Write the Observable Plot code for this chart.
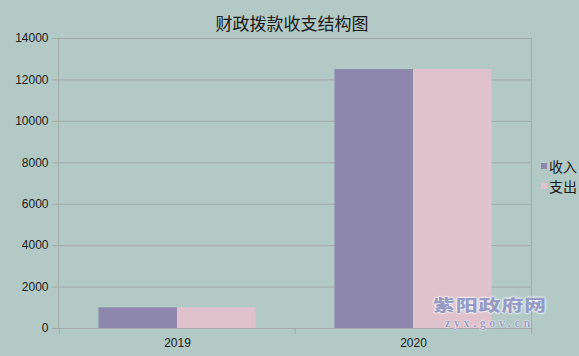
<!DOCTYPE html>
<html><head><meta charset="utf-8">
<script src="https://cdn.jsdelivr.net/npm/d3@7"></script>
<script src="https://cdn.jsdelivr.net/npm/@observablehq/plot@0.6"></script>
<style>
html,body{margin:0;padding:0;background:#b3c9c5;}
#wrap{position:relative;width:579px;height:356px;overflow:hidden;background:#b3c9c5;}
.lg{position:absolute;left:541px;width:6px;height:6px;}
.lt{position:absolute;left:549px;font:14px/16px "Noto Sans CJK SC",sans-serif;color:#1a1a1a;}
#wm1{position:absolute;left:433px;top:296px;font:900 16px/16px "Noto Sans CJK SC",sans-serif;color:#969bc4;
 transform:scaleX(1.38);transform-origin:left top;letter-spacing:0.5px;
 text-shadow:0 0 1px #fff,0 0 2px #fff,0 0 2px #fff;}
#wm2{position:absolute;left:445px;top:317px;font:bold 12px/12px "Liberation Serif",serif;color:#969bc4;letter-spacing:3.6px;
 text-shadow:0 0 1px #fff,0 0 2px #fff;}
</style></head><body><div id="wrap"></div>
<script>
const title = "财政拨款收支结构图";
const years = ["2019", "2020"];
const series = ["收入", "支出"];
const income = [1000, 12500];
const expense = [1000, 12500];
const yTicks = [0, 2000, 4000, 6000, 8000, 10000, 12000, 14000];
const colors = ["#8e87ad", "#dfc2cb"];
const watermark = ["紫阳政府网", "zyx.gov.cn"];

const gridColor = "#a2aba9";
const incomeRows = years.map((y, i) => ({year: y, series: series[0], value: income[i]}));
const expenseRows = years.map((y, i) => ({year: y, series: series[1], value: expense[i]}));

const chart = Plot.plot({
  width: 579, height: 356,
  marginLeft: 58, marginRight: 48, marginTop: 38, marginBottom: 28,
  style: {background: "transparent", fontFamily: "'Liberation Sans', Arial, sans-serif", fontSize: "12px", color: "#1a1a1a"},
  x: {domain: years, padding: 0, axis: null, label: null},
  y: {domain: [0, 14000], axis: null, label: null},
  color: {domain: series, range: colors},
  marks: [
    Plot.gridY(yTicks, {stroke: gridColor, strokeOpacity: 1}),
    Plot.frame({stroke: gridColor}),
    Plot.barY(incomeRows, {x: "year", y: "value", fill: "series", insetLeft: 39.5, insetRight: 118}),
    Plot.barY(expenseRows, {x: "year", y: "value", fill: "series", insetLeft: 118, insetRight: 39.5}),
    Plot.axisY(yTicks, {tickSize: 6, tickPadding: 4, stroke: gridColor, fill: "#1a1a1a", tickFormat: d => String(d), fontSize: 12, label: null}),
    Plot.axisX({tickSize: 0, tickPadding: 10, fill: "#1a1a1a", fontSize: 12, label: null}),
    Plot.axisX({tickSize: 6, tickFormat: () => "", stroke: gridColor, dx: -118.25, label: null}),
    Plot.axisX([years[years.length - 1]], {tickSize: 6, tickFormat: () => "", stroke: gridColor, dx: 118.25, label: null}),
    Plot.text([title], {frameAnchor: "top", dy: -20.5, dx: -3, fontSize: 17, fontFamily: "'Noto Sans CJK SC', sans-serif", fill: "#1a1a1a"})
  ]
});
const wrap = document.getElementById("wrap");
wrap.appendChild(chart);

series.forEach((s, i) => {
  const sq = document.createElement("div");
  sq.className = "lg";
  sq.style.top = (163 + i * 20) + "px";
  sq.style.background = colors[i];
  wrap.appendChild(sq);
  const t = document.createElement("div");
  t.className = "lt";
  t.style.top = (158 + i * 20) + "px";
  t.textContent = s;
  wrap.appendChild(t);
});
const w1 = document.createElement("div"); w1.id = "wm1"; w1.textContent = watermark[0]; wrap.appendChild(w1);
const w2 = document.createElement("div"); w2.id = "wm2"; w2.textContent = watermark[1]; wrap.appendChild(w2);
</script></body></html>
